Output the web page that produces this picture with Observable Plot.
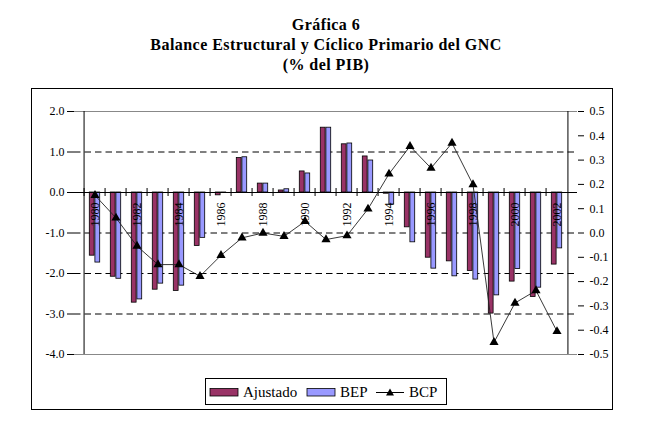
<!DOCTYPE html>
<html>
<head>
<meta charset="utf-8">
<script src="https://cdn.jsdelivr.net/npm/d3@7"></script>
<script src="https://cdn.jsdelivr.net/npm/@observablehq/plot@0.6"></script>
<style>
  html, body { margin: 0; padding: 0; background: #fff; }
  #wrap { position: relative; width: 651px; height: 446px; overflow: hidden; font-family: "Liberation Serif", "Times New Roman", serif; color: #000; }
  #chart { position: absolute; left: 0; top: 0; }
  #chart svg text { font-family: "Liberation Serif", "Times New Roman", serif; }
  #title { position: absolute; left: 0; top: 14.6px; width: 652px; text-align: center; font-weight: bold; font-size: 16px; letter-spacing: 0.45px; line-height: 20px; }
  #frame { position: absolute; left: 31px; top: 88px; width: 580px; height: 320px; border: 1.3px solid #000; pointer-events: none; }
  #legend { position: absolute; left: 205px; top: 378px; }
</style>
</head>
<body>
<div id="wrap">
  <div id="chart"></div>
  <div id="frame"></div>
  <div id="title">Gráfica 6<br>Balance Estructural y Cíclico Primario del GNC<br>(% del PIB)</div>
  <svg id="legend" width="243" height="28">
    <rect x="0.5" y="0.5" width="241" height="26" fill="#fff" stroke="#000" stroke-width="1"/>
    <rect x="5" y="10.5" width="28" height="7.5" fill="#993366" stroke="#000" stroke-width="0.8"/>
    <text x="38" y="19" font-size="15" font-family="Liberation Serif, serif">Ajustado</text>
    <rect x="102" y="10.5" width="28" height="7.5" fill="#9999FF" stroke="#000" stroke-width="0.8"/>
    <text x="135" y="19" font-size="15" font-family="Liberation Serif, serif">BEP</text>
    <line x1="171" y1="14.5" x2="199" y2="14.5" stroke="#000" stroke-width="1"/>
    <path d="M185,10.5 L189,17.5 L181,17.5 Z" fill="#000"/>
    <text x="204" y="19" font-size="15" font-family="Liberation Serif, serif">BCP</text>
  </svg>
</div>
<script>
// ---- data ----
const years = [1980,1981,1982,1983,1984,1985,1986,1987,1988,1989,1990,1991,1992,1993,1994,1995,1996,1997,1998,1999,2000,2001,2002];
const ajustado = [-1.56,-2.08,-2.72,-2.40,-2.43,-1.32,-0.07,0.85,0.22,0.05,0.52,1.60,1.19,0.89,-0.03,-0.86,-1.61,-1.70,-1.94,-2.99,-2.20,-2.58,-1.78];
const bep = [-1.73,-2.13,-2.64,-2.25,-2.30,-1.12,-0.01,0.87,0.22,0.08,0.47,1.60,1.21,0.79,-0.30,-1.23,-1.88,-2.07,-2.15,-2.54,-1.89,-2.35,-1.38];
const bcp = [0.155,0.062,-0.054,-0.13,-0.13,-0.178,-0.092,-0.02,0.0,-0.014,0.048,-0.027,-0.011,0.099,0.243,0.357,0.267,0.37,0.199,-0.45,-0.288,-0.237,-0.405];
const yearLabels = [1980,1982,1984,1986,1988,1990,1992,1994,1996,1998,2000,2002];
const leftTicks = [2,1,0,-1,-2,-3,-4];
const rightTicks = [0.5,0.4,0.3,0.2,0.1,0,-0.1,-0.2,-0.3,-0.4,-0.5];
const gridLines = [1,-1,-2,-3];
const leftDomain = [-4, 2];
const rightDomain = [-0.5, 0.5];

// map right-axis values onto left scale
const k = (leftDomain[1] - leftDomain[0]) / (rightDomain[1] - rightDomain[0]);
const toLeft = v => leftDomain[0] + (v - rightDomain[0]) * k;
const fromLeft = v => rightDomain[0] + (v - leftDomain[0]) / k;

const barsA = years.map((y, i) => ({year: y, value: ajustado[i]}));
const barsB = years.map((y, i) => ({year: y, value: bep[i]}));
const line = years.map((y, i) => ({year: y, value: bcp[i]}));

const W = 651, H = 446;
const mL = 74, mR = 74, mT = 111, mB = 92;
const bw = (W - mL - mR) / years.length;
const font = "Liberation Serif, Times New Roman, serif";
const fmt = d => { const s = d.toFixed(1); return s === "-0.0" ? "0.0" : s; };

const chart = Plot.plot({
  width: W, height: H,
  marginLeft: mL, marginRight: mR, marginTop: mT, marginBottom: mB,
  style: {fontFamily: font, color: "#000", background: "transparent"},
  x: {type: "band", domain: years, padding: 0, axis: null},
  y: {domain: leftDomain, axis: null},
  marks: [
    Plot.ruleY(gridLines, {stroke: "#000", strokeDasharray: "6.5,4", strokeWidth: 1}),
    Plot.ruleY([leftDomain[1], leftDomain[0]], {stroke: "#888", strokeWidth: 1}),
    Plot.barY(barsA, {x: "year", y: "value", fill: "#993366", stroke: "#000", strokeWidth: 0.8, insetLeft: 5.3, insetRight: 10.9}),
    Plot.barY(barsB, {x: "year", y: "value", fill: "#9999FF", stroke: "#000", strokeWidth: 0.8, insetLeft: 10.9, insetRight: 5.3}),
    Plot.ruleY([0], {stroke: "#000", strokeWidth: 1}),
    Plot.ruleX(years, {x: d => d, y1: () => 0, y2: () => 0, dx: -bw / 2, insetTop: -4, insetBottom: -4, stroke: "#000"}),
    Plot.ruleX([years[0]], {x: d => d, dx: -bw / 2, stroke: "#000"}),
    Plot.ruleX([years[years.length - 1]], {x: d => d, dx: bw / 2, stroke: "#000"}),
    Plot.axisY({anchor: "left", ticks: leftTicks, tickSize: 7, tickPadding: 3, tickFormat: fmt, fontSize: 12, fontFamily: font, label: null}),
    Plot.axisY({anchor: "right", ticks: rightTicks.map(toLeft), tickSize: 6, tickPadding: 6, tickFormat: d => fmt(fromLeft(d)), fontSize: 12, fontFamily: font, label: null}),
    Plot.text(yearLabels, {x: d => d, y: () => 0, text: d => String(d), rotate: -90, textAnchor: "end", dy: 10, fontSize: 12, fontFamily: font, fill: "#000"}),
    Plot.line(line, {x: "year", y: d => toLeft(d.value), stroke: "#222", strokeWidth: 0.9}),
    Plot.dot(line, {x: "year", y: d => toLeft(d.value), symbol: "triangle", fill: "#000", r: 3.4})
  ]
});
document.getElementById("chart").appendChild(chart);
</script>
</body>
</html>
